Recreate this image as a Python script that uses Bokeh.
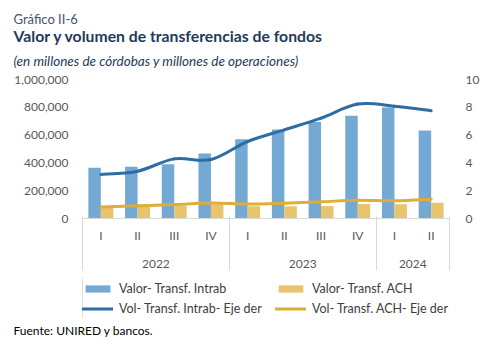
from bokeh.plotting import figure
from bokeh.layouts import column
from bokeh.models import (Range1d, LinearAxis, FixedTicker, NumeralTickFormatter,
                          Title, Legend, LegendItem, ColumnDataSource)
from bokeh.transform import dodge
from bokeh.embed import file_html
from bokeh.resources import INLINE

# ---------------- data ----------------
quarters = ["I", "II", "III", "IV", "I", "II", "III", "IV", "I", "II"]
years = ["2022", "2022", "2022", "2022", "2023", "2023", "2023", "2023", "2024", "2024"]
val_intrab = [365000, 372000, 390000, 468000, 570000, 640000, 695000, 740000, 798000, 633000]
val_ach = [75000, 82000, 90000, 103000, 88000, 88000, 90000, 104000, 102000, 113000]
vol_intrab = [3.17, 3.40, 4.29, 4.24, 5.54, 6.38, 7.22, 8.23, 8.08, 7.75]
vol_ach = [0.82, 0.91, 1.00, 1.12, 1.04, 1.10, 1.20, 1.32, 1.27, 1.39]
left_ticks = [0, 200000, 400000, 600000, 800000, 1000000]
right_ticks = [0, 2, 4, 6, 8, 10]
labels = ["Valor- Transf. Intrab", "Valor- Transf. ACH",
          "Vol- Transf. Intrab- Eje der", "Vol- Transf. ACH- Eje der"]

C_INTRAB = "#74a9d4"
C_ACH = "#e8c56c"
C_VOL_INTRAB = "#2e6da4"
C_VOL_ACH = "#ddae38"
TXT = "#595959"
FONT = "Lato"

idx = list(range(len(quarters)))
src = ColumnDataSource(dict(x=idx, intrab=val_intrab, ach=val_ach))

p = figure(width=502, height=278, output_backend="svg", toolbar_location=None,
           x_range=Range1d(-0.5, len(idx) - 0.5), y_range=Range1d(0, 1000000),
           x_axis_type=None, y_axis_type=None, title_location=None,
           min_border_left=82, min_border_right=53, min_border_top=79, min_border_bottom=60)
p.outline_line_color = None
p.background_fill_color = "white"
p.border_fill_color = "white"
p.extra_y_ranges = {"vol": Range1d(0, 10)}


def title(fig, text, size, color, style, standoff, loc="above"):
    t = Title(text=text, align="left", offset=-69, standoff=standoff,
              text_font=FONT, text_font_size=size, text_color=color,
              text_font_style=style)
    fig.add_layout(t, loc)

# titles (first added is nearest to the frame)
title(p, "(en millones de córdobas y millones de operaciones)", "13.5px", "#1f3a5a", "italic", 21)
title(p, "Valor y volumen de transferencias de fondos", "15.75px", "#1f3a5a", "bold", -9)
title(p, "Gráfico II-6", "13px", "#44546a", "normal", 3)

# left axis
ly = LinearAxis(ticker=FixedTicker(ticks=left_ticks), formatter=NumeralTickFormatter(format="0,0"))
# right axis
ry = LinearAxis(y_range_name="vol", ticker=FixedTicker(ticks=right_ticks))
for ax, so in ((ly, 8), (ry, 10)):
    ax.axis_line_color = None
    ax.major_tick_line_color = None
    ax.minor_tick_line_color = None
    ax.major_label_standoff = so
    ax.major_label_text_font = FONT
    ax.major_label_text_font_size = "12px"
    ax.major_label_text_color = TXT
p.add_layout(ly, "left")
p.add_layout(ry, "right")

# group boundaries and centers
groups = []
for i, y in enumerate(years):
    if not groups or groups[-1][0] != y:
        groups.append([y, i, i])
    else:
        groups[-1][2] = i
bounds = [g[1] - 0.5 for g in groups] + [groups[-1][2] + 0.5]
centers = [(g[1] + g[2]) / 2 for g in groups]


def style_axis(ax, standoff):
    ax.major_tick_line_color = None
    ax.major_tick_out = 0
    ax.major_tick_in = 0
    ax.minor_tick_line_color = None
    ax.major_label_standoff = standoff
    ax.major_label_text_font = FONT
    ax.major_label_text_font_size = "12px"
    ax.major_label_text_color = TXT

xq = LinearAxis(ticker=FixedTicker(ticks=idx, minor_ticks=[]),
                major_label_overrides={float(i): q for i, q in zip(idx, quarters)})
style_axis(xq, 9)
xq.axis_line_color = "#d9d9d9"
p.add_layout(xq, "below")

xy = LinearAxis(ticker=FixedTicker(ticks=centers, minor_ticks=[]),
                major_label_overrides={float(c): g[0] for c, g in zip(centers, groups)})
style_axis(xy, 14)
xy.axis_line_color = None
p.add_layout(xy, "below")

# group separators: minor ticks pointing up from the bottom of the category block
xs = LinearAxis(ticker=FixedTicker(ticks=[], minor_ticks=bounds))
xs.axis_line_color = None
xs.major_tick_line_color = None
xs.major_label_text_font_size = "0px"
xs.major_label_standoff = 0
xs.major_tick_out = 0
xs.minor_tick_line_color = "#d9d9d9"
xs.minor_tick_in = 54
xs.minor_tick_out = 0
p.add_layout(xs, "below")

p.xgrid.visible = False
p.ygrid.visible = False

# bars
p.vbar(x=dodge("x", -0.17, range=p.x_range), top="intrab", width=0.34,
       source=src, fill_color=C_INTRAB, line_color=None)
p.vbar(x=dodge("x", 0.17, range=p.x_range), top="ach", width=0.34,
       source=src, fill_color=C_ACH, line_color=None)


def smooth(xs_, ys):
    n = len(xs_)
    d = dict(x0=[], y0=[], x1=[], y1=[], cx0=[], cy0=[], cx1=[], cy1=[])
    for i in range(n - 1):
        a = max(i - 1, 0)
        b = min(i + 2, n - 1)
        d["x0"].append(xs_[i]); d["y0"].append(ys[i])
        d["x1"].append(xs_[i + 1]); d["y1"].append(ys[i + 1])
        d["cx0"].append(xs_[i] + (xs_[i + 1] - xs_[a]) / 6)
        d["cy0"].append(ys[i] + (ys[i + 1] - ys[a]) / 6)
        d["cx1"].append(xs_[i + 1] - (xs_[b] - xs_[i]) / 6)
        d["cy1"].append(ys[i + 1] - (ys[b] - ys[i]) / 6)
    return ColumnDataSource(d)


p.bezier(x0="x0", y0="y0", x1="x1", y1="y1", cx0="cx0", cy0="cy0", cx1="cx1", cy1="cy1",
         source=smooth(idx, vol_intrab), y_range_name="vol",
         line_color=C_VOL_INTRAB, line_width=3, line_cap="round")
p.bezier(x0="x0", y0="y0", x1="x1", y1="y1", cx0="cx0", cy0="cy0", cx1="cx1", cy1="cy1",
         source=smooth(idx, vol_ach), y_range_name="vol",
         line_color=C_VOL_ACH, line_width=3, line_cap="round")

# ---------------- legend + source panel ----------------
q = figure(width=502, height=75, output_backend="svg", toolbar_location=None,
           x_range=Range1d(0, 1), y_range=Range1d(0, 1),
           x_axis_type=None, y_axis_type=None, title_location=None,
           min_border_left=82, min_border_right=53, min_border_top=0, min_border_bottom=35)
q.outline_line_color = None
q.xgrid.visible = False
q.ygrid.visible = False
# legend keys (placed outside the visible range; only their styles are shown in the legend)
k_intrab = q.vbar(x=[-5], top=[1], width=0.1, fill_color=C_INTRAB, line_color=None)
k_ach = q.vbar(x=[-5], top=[1], width=0.1, fill_color=C_ACH, line_color=None)
k_vi = q.line(x=[-5, -4], y=[0, 0], line_color=C_VOL_INTRAB, line_width=3, line_cap="round")
k_va = q.line(x=[-5, -4], y=[0, 0], line_color=C_VOL_ACH, line_width=3, line_cap="round")

lg = Legend(items=[LegendItem(label=labels[0], renderers=[k_intrab]),
                   LegendItem(label=labels[1], renderers=[k_ach]),
                   LegendItem(label=labels[2], renderers=[k_vi]),
                   LegendItem(label=labels[3], renderers=[k_va])],
            orientation="horizontal", ncols=2, location="top_left")
lg.glyph_width = 31
lg.glyph_height = 9
lg.label_height = 20
lg.label_width = 156
lg.label_standoff = 6
lg.spacing = 0
lg.padding = 0
lg.margin = 0
lg.border_line_color = None
lg.background_fill_alpha = 0
lg.label_text_font = FONT
lg.label_text_font_size = "12.5px"
lg.label_text_color = "#404040"
q.add_layout(lg, "center")

title(q, "Fuente: UNIRED y bancos.", "12px", "#000000", "normal", 4, loc="below")

open("out.html", "w").write(file_html(column(p, q, spacing=0), INLINE))
